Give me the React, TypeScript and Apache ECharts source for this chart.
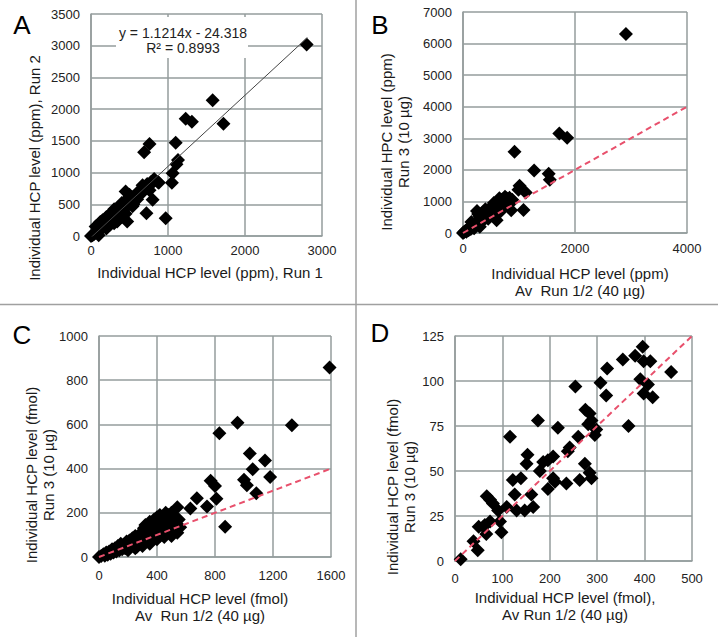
import React, { useEffect, useRef } from "react";
import * as echarts from "echarts";

// ---------- DATA ----------
const panelLetters = ["A", "B", "C", "D"];

// Panel A: Run 1 (x) vs Run 2 (y), ppm
const aPoints: [number, number][] = [
  [2800, 3020], [1580, 2140], [1720, 1770], [1230, 1850], [1310, 1800], [1100, 1470], [760, 1450], [690, 1320],
  [1130, 1200], [1110, 1130], [1060, 990], [1050, 840], [970, 280], [720, 360], [800, 570], [830, 880],
  [870, 850], [750, 780], [670, 800], [760, 720], [450, 700], [560, 570], [540, 470], [470, 230], [340, 230],
  [0, 0], [20, 10], [40, 30], [60, 50], [80, 60], [100, 90], [100, 10], [60, 150], [110, 130], [130, 110],
  [150, 170], [160, 140], [180, 200], [200, 190], [210, 250], [230, 230], [250, 280], [260, 240], [280, 320],
  [300, 290], [320, 360], [330, 300], [350, 390], [370, 360], [390, 440], [400, 400], [420, 470], [440, 430],
  [460, 520], [480, 500], [500, 560], [520, 540], [550, 620], [580, 600], [600, 680], [630, 650], [650, 720],
  [700, 760], [730, 820], [780, 850], [820, 900], [880, 840], [300, 200], [400, 300], [200, 120], [120, 220],
  [250, 180], [150, 250], [250, 350], [350, 450], [300, 420], [200, 300], [400, 520], [500, 650], [450, 560],
  [350, 250], [450, 350], [550, 500], [600, 580], [680, 700],
];
const aTrendSlope = 1.1214;
const aTrendIntercept = -24.318;
const aTrendXRange = [0, 2810];
const aEquation = "y = 1.1214x - 24.318\nR² = 0.8993";

// Panel B: Av Run 1/2 (x) vs Run 3 (y), ppm
const bPoints: [number, number][] = [
  [2910, 6300], [1720, 3150], [1860, 3020], [920, 2570], [1270, 1980], [1530, 1880], [1550, 1690], [1010, 1500],
  [990, 1370], [1120, 1280], [1080, 730], [860, 720], [600, 400],
  [0, 0], [20, 30], [40, 60], [60, 40], [80, 120], [100, 90], [120, 180], [140, 130], [160, 220], [180, 170],
  [200, 280], [220, 230], [240, 330], [250, 700], [270, 600], [260, 300], [290, 400], [300, 520], [320, 380],
  [340, 470], [360, 560], [380, 430], [400, 620], [420, 500], [440, 680], [460, 560], [480, 760], [500, 620],
  [520, 820], [540, 680], [560, 900], [580, 740], [600, 960], [620, 800], [640, 1000], [660, 850], [680, 1050],
  [700, 900], [720, 1080], [750, 950], [780, 1100], [800, 1000], [830, 1120], [850, 950], [880, 1050],
  [650, 650], [700, 750], [300, 200], [200, 150], [150, 350], [500, 800], [600, 850], [650, 1100], [750, 1150],
  [400, 750], [550, 950], [700, 1000], [350, 650], [450, 450], [550, 550],
];

// Panel C: Av Run 1/2 (x) vs Run 3 (y), fmol
const cPoints: [number, number][] = [
  [1590, 857], [1330, 596], [955, 608], [830, 560], [1040, 468], [1145, 437], [1060, 397], [1180, 362],
  [1000, 350], [1020, 325], [1085, 288], [770, 345], [800, 321], [810, 264], [745, 228], [675, 266],
  [630, 220], [870, 137], [540, 225],
  [0, 0], [15, 5], [30, 12], [40, 6], [50, 20], [60, 10], [70, 25], [80, 15], [90, 35], [100, 20], [110, 40],
  [120, 25], [130, 50], [140, 30], [150, 60], [160, 35], [170, 55], [180, 40], [190, 70], [200, 45], [210, 75],
  [220, 50], [230, 85], [240, 55], [250, 95], [260, 45], [270, 90], [280, 60], [290, 110], [300, 70], [310, 130],
  [320, 80], [330, 120], [340, 90], [350, 135], [360, 75], [370, 110], [380, 100], [390, 150], [400, 120],
  [410, 160], [420, 95], [430, 140], [440, 170], [450, 120], [460, 180], [470, 130], [480, 150], [490, 160],
  [500, 110], [510, 140], [520, 180], [530, 120], [550, 170], [560, 135],
  [320, 145], [350, 160], [400, 180], [420, 190], [460, 200], [480, 190], [500, 200], [440, 150], [380, 170],
  [300, 50], [350, 60], [400, 80], [450, 90], [500, 95], [540, 110], [250, 40], [200, 30],
];

// Panel D: Av Run 1/2 (x) vs Run 3 (y), fmol
const dPoints: [number, number][] = [
  [12, 1], [39, 11], [48, 6], [50, 19], [60, 19], [66, 15], [63, 20], [67, 36], [74, 34], [80, 32], [74, 22],
  [91, 28], [95, 22], [98, 16], [109, 30], [116, 69], [122, 45], [126, 37], [130, 28], [139, 46], [147, 28],
  [153, 59], [151, 54], [165, 30], [161, 37], [175, 78], [179, 50], [186, 55], [196, 56], [196, 40], [207, 58],
  [211, 44], [217, 74], [207, 46], [235, 43], [242, 63], [238, 61], [254, 97], [260, 69], [263, 45], [274, 54],
  [275, 84], [281, 76], [284, 49], [288, 46], [284, 82], [288, 78], [295, 70], [298, 73], [307, 99], [319, 92],
  [321, 107], [354, 112], [366, 75], [380, 114], [396, 119], [391, 101], [398, 111], [412, 111], [398, 93],
  [407, 98], [417, 91], [456, 105],
];

// dashed reference lines (y = slope * x) for B, C, D
const refSlopes = [1, 0.25, 0.25];

// axes: [min, max, interval]
const xScales: [number, number, number][] = [[0, 3000, 1000], [0, 4000, 2000], [0, 1600, 400], [0, 500, 100]];
const yScales: [number, number, number][] = [[0, 3500, 500], [0, 7000, 1000], [0, 1000, 200], [0, 125, 25]];

const xTitles = [
  "Individual HCP level (ppm), Run 1",
  "Individual HCP level (ppm)\nAv  Run 1/2 (40 µg)",
  "Individual HCP level (fmol)\nAv  Run 1/2 (40 µg)",
  "Individual HCP level (fmol),\nAv Run 1/2 (40 µg)",
];
const yTitles = [
  "Individual HCP level (ppm), Run 2",
  "Individual HPC level (ppm)\nRun 3 (10 µg)",
  "Individual HCP level (fmol)\nRun 3 (10 µg)",
  "Individual HCP level (fmol)\nRun 3 (10 µg)",
];

// ---------- LAYOUT / STYLE ----------
const grids = [
  { left: 91, top: 14, width: 231, height: 222 },
  { left: 463, top: 12, width: 224, height: 221 },
  { left: 99, top: 336, width: 232, height: 221 },
  { left: 455, top: 336, width: 237, height: 225 },
];
const xLabelMargins = [8, 9, 12, 11];
const xTitlePos = [[210, 272], [580, 282], [200, 607], [565, 606]];
const yTitlePos = [[34, 168], [395, 142], [40, 475], [401, 487]];
const letterPos = [[22, 25], [380, 25], [22, 335], [380, 333]];

const FONT = '"Liberation Sans", Arial, Helvetica, sans-serif';
const GRID_COLOR = "#949d9d";
const REF_COLOR = "#e8506c";

export default function App() {
  const ref = useRef<HTMLDivElement>(null);

  useEffect(() => {
    if (!ref.current) return;
    const chart = echarts.init(ref.current, undefined, { renderer: "svg" });

    const labelStyle = { color: "#222", fontSize: 13, fontFamily: FONT, formatter: (v: number) => String(v) };

    const xAxis = xScales.map(([min, max, interval], i) => ({
      type: "value",
      gridIndex: i,
      min,
      max,
      interval,
      axisLine: { show: true, onZero: false, lineStyle: { color: GRID_COLOR, width: 1.5 } },
      axisTick: { show: false },
      splitLine: { show: true, lineStyle: { color: GRID_COLOR, width: 1.5 } },
      axisLabel: { ...labelStyle, margin: xLabelMargins[i] },
    }));
    const yAxis = yScales.map(([min, max, interval], i) => ({
      type: "value",
      gridIndex: i,
      min,
      max,
      interval,
      axisLine: { show: true, onZero: false, lineStyle: { color: GRID_COLOR, width: 1.5 } },
      axisTick: { show: false },
      splitLine: { show: true, lineStyle: { color: GRID_COLOR, width: 1.5 } },
      axisLabel: { ...labelStyle, margin: 11 },
    }));

    const allPoints = [aPoints, bPoints, cPoints, dPoints];
    const scatterSeries = allPoints.map((pts, i) => ({
      type: "scatter",
      xAxisIndex: i,
      yAxisIndex: i,
      data: pts,
      symbol: "diamond",
      symbolSize: 14,
      itemStyle: { color: "#000", opacity: 1 },
      z: 3,
    }));

    const trendSeries = {
      type: "line",
      xAxisIndex: 0,
      yAxisIndex: 0,
      data: aTrendXRange.map((x) => [x, aTrendSlope * x + aTrendIntercept]),
      symbol: "none",
      lineStyle: { color: "#444", width: 1 },
      z: 4,
      clip: true,
    };

    const refSeries = refSlopes.map((s, k) => {
      const i = k + 1;
      const [xmin, xmax] = xScales[i];
      return {
        type: "line",
        xAxisIndex: i,
        yAxisIndex: i,
        data: [xmin, xmax].map((x) => [x, s * x]),
        symbol: "none",
        lineStyle: { color: REF_COLOR, width: 2, type: [6, 4] },
        z: 4,
      };
    });

    const graphic: any[] = [
      // panel dividers
      { type: "line", shape: { x1: 356, y1: 0, x2: 356, y2: 637 }, style: { stroke: "#a0a0a0", lineWidth: 1.5 }, z: 10 },
      { type: "line", shape: { x1: 0, y1: 304.5, x2: 718, y2: 304.5 }, style: { stroke: "#a0a0a0", lineWidth: 1.5 }, z: 10 },
      // equation box
      { type: "rect", shape: { x: 116, y: 17, width: 132, height: 41 }, style: { fill: "#fff" }, z: 50 },
      {
        type: "text",
        x: 183,
        y: 40.5,
        z: 51,
        style: {
          text: aEquation,
          font: `14px ${FONT}`,
          fill: "#222",
          textAlign: "center",
          textVerticalAlign: "middle",
          lineHeight: 15,
        },
      },
    ];
    panelLetters.forEach((l, i) => {
      graphic.push({
        type: "text",
        x: letterPos[i][0],
        y: letterPos[i][1],
        z: 20,
        style: { text: l, font: `26px ${FONT}`, fill: "#000", textAlign: "center", textVerticalAlign: "middle" },
      });
    });
    xTitles.forEach((t, i) => {
      graphic.push({
        type: "text",
        x: xTitlePos[i][0],
        y: xTitlePos[i][1],
        z: 20,
        style: { text: t, font: `15px ${FONT}`, fill: "#1a1a1a", textAlign: "center", textVerticalAlign: "middle", lineHeight: 17 },
      });
    });
    yTitles.forEach((t, i) => {
      graphic.push({
        type: "text",
        x: yTitlePos[i][0],
        y: yTitlePos[i][1],
        rotation: Math.PI / 2,
        z: 20,
        style: { text: t, font: `15px ${FONT}`, fill: "#1a1a1a", textAlign: "center", textVerticalAlign: "middle", lineHeight: 17 },
      });
    });

    chart.setOption({
      animation: false,
      backgroundColor: "#fff",
      grid: grids.map((g) => ({ ...g, containLabel: false })),
      xAxis,
      yAxis,
      series: [...scatterSeries, trendSeries, ...refSeries],
      graphic,
    });

    return () => chart.dispose();
  }, []);

  return (
    <div
      ref={ref}
      style={{ position: "fixed", left: 0, top: 0, width: 718, height: 637, background: "#fff" }}
    />
  );
}
